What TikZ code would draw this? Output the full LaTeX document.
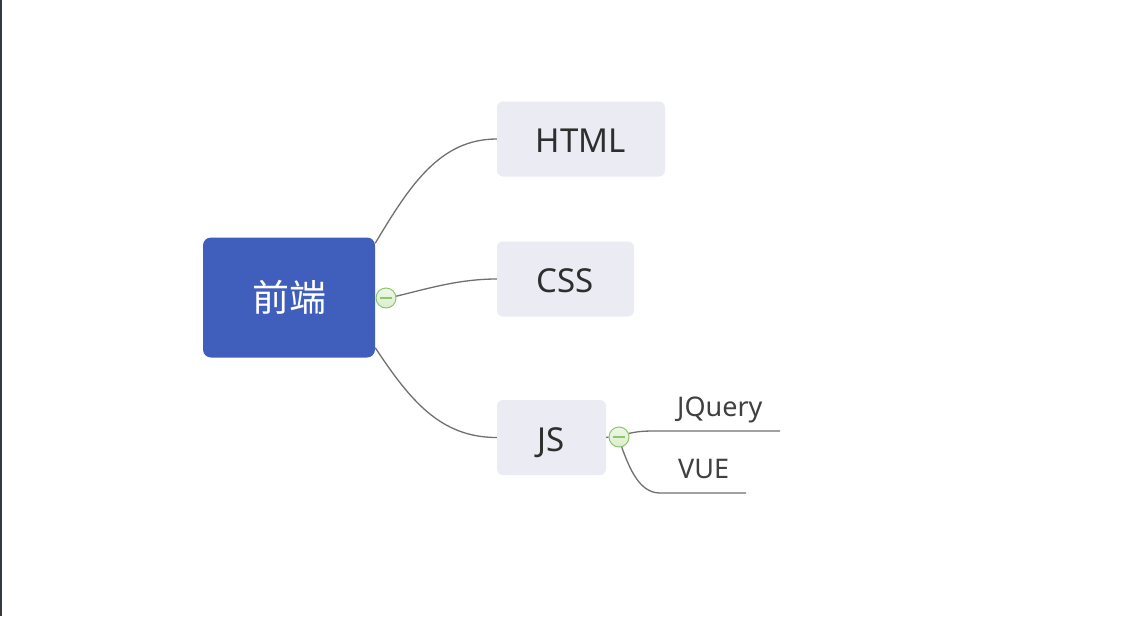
\documentclass[tikz,border=0pt]{standalone}
\usepackage{fontspec}
\setmainfont{Noto Sans}
\newfontfamily\cjk{Noto Sans CJK SC}
\usetikzlibrary{calc}
\definecolor{mainblue}{HTML}{405EBB}
\definecolor{topicbg}{HTML}{EBEBF3}
\definecolor{txt}{HTML}{2E2E2E}
\definecolor{subtxt}{HTML}{404040}
\definecolor{conn}{HTML}{707070}
\definecolor{knobline}{HTML}{8CC76C}
\definecolor{knobfill}{HTML}{E4F2D8}
\definecolor{edge}{HTML}{333B40}
\tikzset{
  central/.style={fill=mainblue, rounded corners=8pt, minimum width=172pt, minimum height=120pt, inner sep=0pt, text=white, font=\cjk\fontsize{37}{44}\selectfont},
  topic/.style={fill=topicbg, rounded corners=6pt, minimum height=75pt, inner sep=0pt, text height=27.5pt, text depth=0pt, text=txt, font=\fontsize{33}{40}\selectfont},
  subtopic/.style={anchor=base west, inner sep=0pt, text=subtxt, font=\fontsize{27}{32}\selectfont},
  connector/.style={draw=conn, line width=1.3pt},
  knob/.style={circle, draw=knobline, line width=1pt, top color=knobfill!60!white, bottom color=knobfill!90!knobline, minimum size=20pt, inner sep=0pt,
    path picture={\draw[knobline, line width=1.6pt] ([xshift=-6pt]path picture bounding box.center) -- ([xshift=6pt]path picture bounding box.center);}},
}
\begin{document}
\begin{tikzpicture}[x=1pt, y=-1pt]
\useasboundingbox (0,0) rectangle (1134,616);
\fill[white] (0,0) rectangle (1134,616);
\draw[edge, line width=1.5pt] (0.75,0) -- (0.75,616);

\node[central] (c) at (289,297.5) {前端};
\node[topic, minimum width=168pt] (html) at (581,139) {HTML};
\node[topic, minimum width=137pt] (css) at (565.5,279) {CSS};
\node[topic, minimum width=109pt] (js) at (551.5,437.5) {JS};

\node[knob] (k1) at (386,298) {};
\node[knob] (k2) at (619,437) {};

\coordinate (jqend) at (780,431);
\coordinate (vueend) at (746,493);

\draw[connector] ([yshift=-6pt]c.north east) .. controls (410,185) and (440,139) .. (html.west);
\draw[connector] (k1.10) .. controls (430,288) and (460,279) .. (css.west);
\draw[connector] ([yshift=10pt]c.south east) .. controls (410,400) and (440,437.5) .. (js.west);
\draw[connector] (js.east) -- (k2.west);
\draw[connector] (k2.20) .. controls (640,431) and (645,431) .. (660,431) -- (jqend);
\draw[connector] (k2.-75) .. controls (630,470) and (640,493) .. (660,493) -- (vueend);

\node[subtopic] (jq) at (677,416) {JQuery};
\node[subtopic] (vue) at (678,478) {VUE};
\end{tikzpicture}
\end{document}
